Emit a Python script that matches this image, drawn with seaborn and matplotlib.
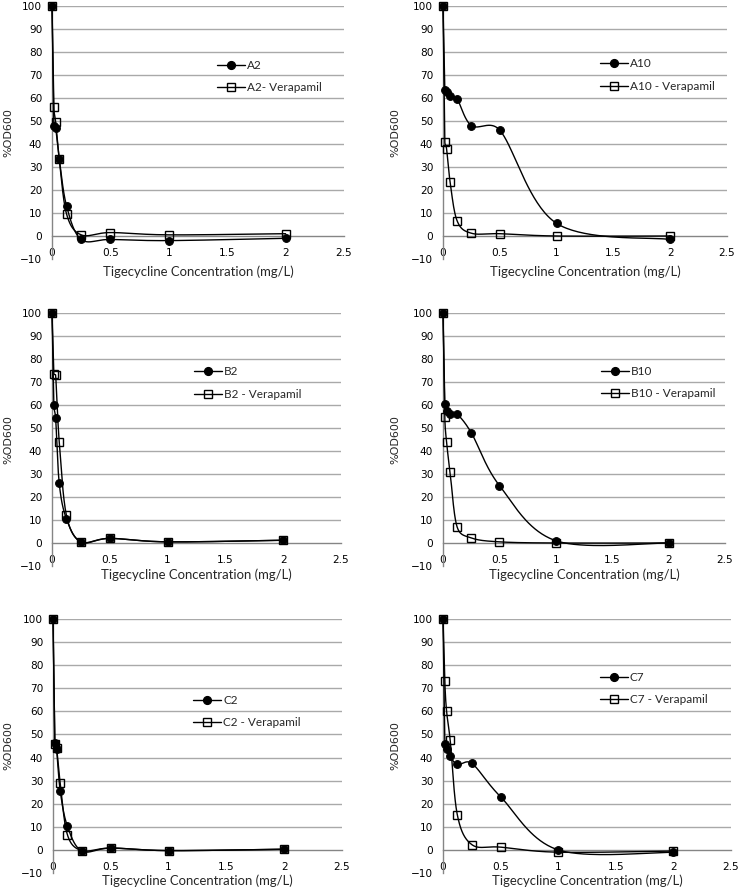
import numpy as np
import seaborn as sns
import matplotlib
matplotlib.use("Agg")
import matplotlib.pyplot as plt
from matplotlib.lines import Line2D

# tigecycline concentrations (mg/L)
conc = [0, 0.015625, 0.03125, 0.0625, 0.125, 0.25, 0.5, 1, 2]

# %OD600
a2 = [100, 48, 47, 33.5, 13, -1.5, -1.5, -2, -1]
a2_ver = [100, 56, 49.5, 33.5, 9.5, 0.5, 1.5, 0.5, 1]
a10 = [100, 63.5, 62.5, 61, 59.5, 48, 46, 5.5, -1.5]
a10_ver = [100, 41, 38, 23.5, 6.5, 1.2, 1, 0, 0]
b2 = [100, 60, 54.5, 26, 10.5, 0.5, 2, 0.5, 1.2]
b2_ver = [100, 73.5, 73, 44, 12, 0.5, 2, 0.5, 1.2]
b10 = [100, 60.5, 57.5, 56, 56, 48, 25, 1, 0]
b10_ver = [100, 55, 44, 31, 7, 2.2, 0.5, 0, 0]
c2 = [100, 46.5, 43.5, 25.5, 10.2, -0.5, 0.8, -0.3, 0.3]
c2_ver = [100, 46, 44, 29, 6.5, -0.3, 0.8, -0.3, 0.3]
c7 = [100, 46, 43.5, 40.5, 37, 37.5, 23, 0, -1]
c7_ver = [100, 73, 60, 47.5, 15, 2.3, 1.2, -1, -0.5]

labels = [("A2", "A2- Verapamil"), ("A10", "A10 - Verapamil"),
          ("B2", "B2 - Verapamil"), ("B10", "B10 - Verapamil"),
          ("C2", "C2 - Verapamil"), ("C7", "C7 - Verapamil")]
series = [(a2, a2_ver), (a10, a10_ver), (b2, b2_ver),
          (b10, b10_ver), (c2, c2_ver), (c7, c7_ver)]

W, H = 741, 893
# panel boxes in pixels: left, right, top(y=100), bottom(y=-10)
boxes = [(52, 344, 6, 259), (443, 727, 6, 259),
         (52, 341, 313, 566), (443, 725, 313, 566),
         (53, 342, 619, 873), (443, 731, 619, 873)]
xlabel_y = [272, 272, 575, 575, 881, 881]
legend_pos = [(217, 76.5), (600, 75), (194, 383), (601, 382.5), (193, 711.5), (600, 688.5)]

sns.set_style("white")
plt.rcParams['font.family'] = ['DejaVu Sans']

GRID = "#a9a9a9"
AXIS = "#858585"
XS, YS = 116.0, 2.3  # rough px per data unit, for the smoothing


def smooth(xs, ys, n=40):
    # excel-ish smoothed line: bezier segments, arms clamped to half the chord
    p = np.column_stack([np.asarray(xs) * XS, np.asarray(ys) * YS]).astype(float)
    out = []
    for i in range(len(p) - 1):
        p0 = p[i - 1] if i > 0 else p[i]
        p1, p2 = p[i], p[i + 1]
        p3 = p[i + 2] if i + 2 < len(p) else p[i + 1]
        d12 = np.hypot(*(p2 - p1))
        a1 = (p2 - p0) / 6
        a2_ = (p3 - p1) / 6
        for a in (a1, a2_):
            ln = np.hypot(*a)
            if ln > d12 / 2:
                a *= (d12 / 2) / ln
        c1 = p1 + a1
        c2 = p2 - a2_
        t = np.linspace(0, 1, n)[:, None]
        seg = (1 - t) ** 3 * p1 + 3 * (1 - t) ** 2 * t * c1 + 3 * (1 - t) * t ** 2 * c2 + t ** 3 * p2
        out.append(seg if i == 0 else seg[1:])
    out = np.vstack(out)
    return out[:, 0] / XS, out[:, 1] / YS


fig = plt.figure(figsize=(W / 100, H / 100), dpi=100)
renderer = fig.canvas.get_renderer()


def fit_size(text, family, target_px, base=10.0):
    tt = fig.text(0, 0, text, fontsize=base, family=family)
    w = tt.get_window_extent(renderer=renderer).width
    tt.remove()
    return base * target_px / w


xlab_size = fit_size('Tigecycline Concentration (mg/L)', 'Lato', 191)
leg_size = fit_size('A2- Verapamil', 'Lato', 74)
ylab_size = fit_size('%OD600', 'DejaVu Sans', 49)

for k, ((l, r, t, b), (strain, ver), (ys, ys_ver)) in enumerate(zip(boxes, labels, series)):
    ax = fig.add_axes([l / W, 1 - b / H, (r - l) / W, (b - t) / H])
    ax.set_xlim(0, 2.5)
    ax.set_ylim(-10, 100)
    for y in range(10, 101, 10):
        ax.axhline(y, color=GRID, lw=1, zorder=0)

    for vals in (ys_ver, ys):
        cx, cy = smooth(conc, vals)
        sns.lineplot(x=cx, y=cy, sort=False, estimator=None,
                     color='black', lw=1, ax=ax, clip_on=False, zorder=3)
    sns.lineplot(x=conc, y=ys_ver, sort=False, estimator=None, linestyle='',
                 marker='s', markersize=5.2, markerfacecolor='none',
                 markeredgecolor='black', markeredgewidth=1,
                 ax=ax, clip_on=False, zorder=4)
    sns.lineplot(x=conc, y=ys, sort=False, estimator=None, linestyle='',
                 marker='o', markersize=5.6, color='black',
                 markeredgecolor='black', ax=ax, clip_on=False, zorder=5)

    ax.set_xticks([0, 0.5, 1, 1.5, 2, 2.5])
    ax.set_xticklabels(['0', '0.5', '1', '1.5', '2', '2.5'])
    ax.set_yticks(range(-10, 101, 10))
    ax.spines['bottom'].set_position(('data', 0))
    ax.spines[['top', 'right']].set_visible(False)
    for s in ['bottom', 'left']:
        ax.spines[s].set_color(AXIS)
        ax.spines[s].set_linewidth(1)
    ax.tick_params(axis='x', length=0, labelsize=7.6, pad=8.5, colors='black')
    ax.tick_params(axis='y', length=0, labelsize=7.6, pad=7, colors='black')
    ax.set_xlabel('')
    ax.set_ylabel('')

    fig.text((l + r) / 2 / W, 1 - xlabel_y[k] / H, 'Tigecycline Concentration (mg/L)',
             ha='center', va='center', fontsize=xlab_size, family='Lato')
    ylab_x = 8 if l < 300 else 395
    fig.text(ylab_x / W, 1 - (t + b) / 2 / H, '%OD600', rotation=90,
             ha='center', va='center', fontsize=ylab_size)

    handles = [Line2D([], [], color='black', lw=1, marker='o', markersize=5.6),
               Line2D([], [], color='black', lw=1, marker='s', markersize=5.2,
                      markerfacecolor='none', markeredgewidth=1)]
    lx, ly = legend_pos[k]
    fpx = leg_size / 72 * 100
    ax.legend(handles, [strain, ver], loc='center left',
              bbox_to_anchor=(lx / W, 1 - ly / H), bbox_transform=fig.transFigure,
              frameon=False, borderpad=0, borderaxespad=0, handlelength=28 / fpx,
              handletextpad=2 / fpx, labelspacing=(23 - fpx) / fpx,
              prop={'family': 'Lato', 'size': leg_size})

fig.savefig('out.png', dpi=100)
